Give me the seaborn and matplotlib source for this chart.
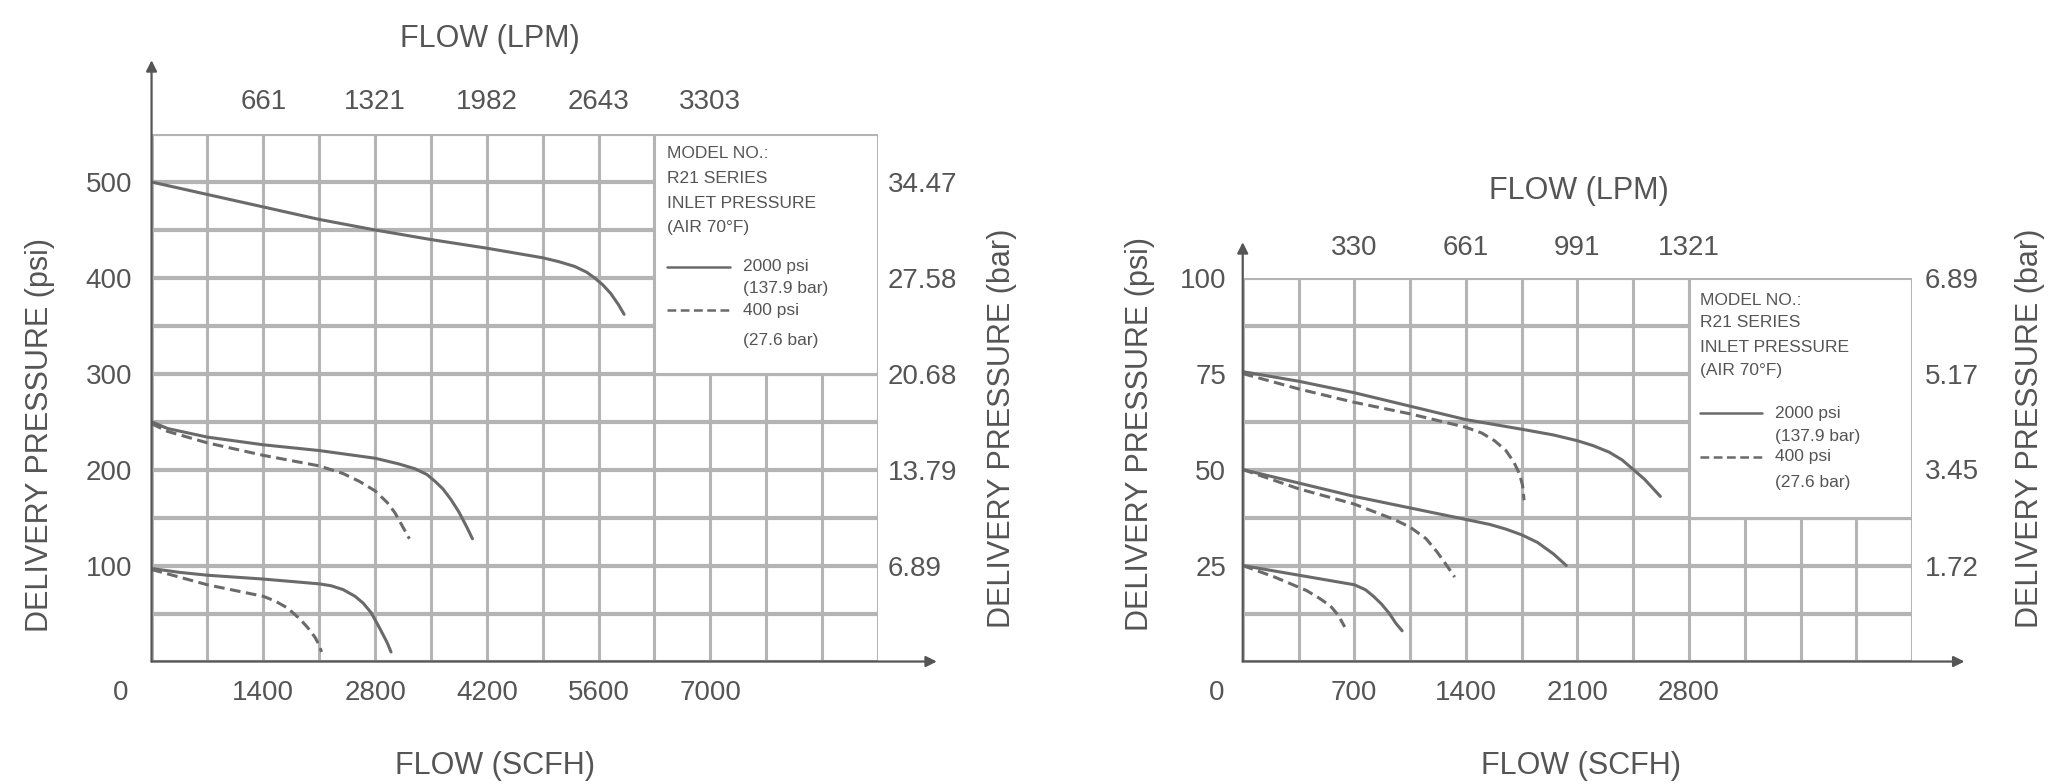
import matplotlib
matplotlib.use("Agg")
import matplotlib.pyplot as plt
import matplotlib.patches as patches
import seaborn as sns
import pandas as pd
import numpy as np

# ---- data ----
# left chart (high pressure range), flow in SCFH, delivery pressure in psi
l500_flow = [0, 700, 1400, 2100, 2800, 3500, 4200, 4900, 5100, 5300, 5450, 5550, 5650, 5750, 5850, 5920]
l500_psi = [500, 487, 474, 461, 450, 440, 431, 421, 417, 412, 406, 400, 393, 384, 372, 362]

l250_flow = [0, 200, 700, 1400, 2100, 2800, 3100, 3300, 3450, 3550, 3650, 3750, 3850, 3950, 4020]
l250_psi = [250, 243, 234, 226, 220, 212, 206, 201, 195, 188, 180, 169, 156, 140, 128]
l250d_flow = [0, 200, 700, 1400, 2100, 2400, 2600, 2800, 2950, 3050, 3150, 3230]
l250d_psi = [248, 240, 228, 215, 204, 196, 188, 178, 166, 155, 140, 128]

l100_flow = [0, 350, 700, 1400, 2100, 2250, 2400, 2550, 2650, 2750, 2850, 2950, 3000]
l100_psi = [97, 93, 90, 86, 81, 79, 75, 68, 61, 51, 36, 20, 10]
l100d_flow = [0, 350, 700, 1050, 1400, 1550, 1700, 1850, 1950, 2050, 2100, 2130]
l100d_psi = [96, 88, 80, 74, 68, 63, 56, 45, 36, 25, 17, 10]

# right chart (low pressure range)
r75_flow = [0, 350, 700, 1050, 1400, 1750, 1950, 2100, 2200, 2300, 2380, 2450, 2520, 2620]
r75_psi = [75.5, 73, 70, 66.5, 63, 60.5, 59, 57.5, 56.2, 54.5, 52.5, 50, 47.5, 43]
r75d_flow = [0, 350, 700, 1050, 1400, 1500, 1580, 1650, 1700, 1735, 1755, 1765]
r75d_psi = [75, 71, 67.5, 64.5, 61, 59.5, 57.5, 55, 52, 49, 46, 42]

r50_flow = [0, 350, 700, 1050, 1400, 1550, 1650, 1750, 1850, 1950, 2030]
r50_psi = [50, 46.5, 43, 40, 37, 35.7, 34.5, 33, 31, 28, 25]
r50d_flow = [0, 350, 700, 950, 1050, 1150, 1220, 1280, 1330]
r50d_psi = [50, 45, 41, 37, 35, 32, 28.5, 25, 22]

r25_flow = [0, 350, 700, 770, 820, 870, 920, 960, 1000]
r25_psi = [25, 22.5, 20, 18.7, 17, 15, 12.5, 10, 8]
r25d_flow = [0, 200, 400, 480, 550, 600, 640]
r25d_psi = [25, 22, 18.5, 16.5, 14.5, 12, 9]

# tick labels
l_scfh_ticks = [1400, 2800, 4200, 5600, 7000]
l_lpm_ticks = [661, 1321, 1982, 2643, 3303]
l_psi_ticks = [100, 200, 300, 400, 500]
l_bar_ticks = [6.89, 13.79, 20.68, 27.58, 34.47]

r_scfh_ticks = [700, 1400, 2100, 2800]
r_lpm_ticks = [330, 661, 991, 1321]
r_psi_ticks = [25, 50, 75, 100]
r_bar_ticks = [1.72, 3.45, 5.17, 6.89]

legend_lines = ["MODEL NO.:", "R21 SERIES", "INLET PRESSURE", "(AIR 70\u00b0F)"]
legend_series = ["2000 psi", "(137.9 bar)", "400 psi", "(27.6 bar)"]

SCFH_TO_LPM = 0.4719
PSI_TO_BAR = 0.068948


def make_df(curves):
    rows = []
    for name, inlet, fl, ps in curves:
        for f, p in zip(fl, ps):
            rows.append({"flow": f, "psi": p, "curve": name, "inlet": inlet})
    return pd.DataFrame(rows)


left_df = make_df([
    ("a", "2000 psi", l500_flow, l500_psi),
    ("b", "2000 psi", l250_flow, l250_psi),
    ("c", "400 psi", l250d_flow, l250d_psi),
    ("d", "2000 psi", l100_flow, l100_psi),
    ("e", "400 psi", l100d_flow, l100d_psi),
])
right_df = make_df([
    ("a", "2000 psi", r75_flow, r75_psi),
    ("b", "400 psi", r75d_flow, r75d_psi),
    ("c", "2000 psi", r50_flow, r50_psi),
    ("d", "400 psi", r50d_flow, r50d_psi),
    ("e", "2000 psi", r25_flow, r25_psi),
    ("f", "400 psi", r25d_flow, r25d_psi),
])

sns.set_theme(style="white")
plt.rcParams["font.family"] = ["Liberation Sans", "DejaVu Sans"]

TXT = "#555555"
GRID = "#b4b4b4"
CURVE = "#6a6a6a"
AX = "#555555"
DASH = (3.5, 1.8)

fig = plt.figure(figsize=(20.48, 7.84), dpi=100)


def draw_panel(ax, df, xmax, xstep, ymax, ystep, scfh_ticks, lpm_ticks,
               psi_ticks, bar_ticks, box, leg, arrow_y, arrow_x, pads, zero_dx):
    ax.set_xlim(0, xmax)
    ax.set_ylim(0, ymax)
    ax.set_xticks(np.arange(0, xmax + 1, xstep), minor=True)
    ax.set_yticks(np.arange(0, ymax + 0.01, ystep), minor=True)
    ax.set_xticks(scfh_ticks)
    ax.set_xticklabels([str(t) for t in scfh_ticks])
    ax.set_yticks(psi_ticks)
    ax.set_yticklabels([str(t) for t in psi_ticks])
    ax.set_axisbelow(True)
    ax.grid(which="both", axis="x", color=GRID, lw=2.2)
    ax.grid(which="both", axis="y", color=GRID, lw=3.0)
    for s in ax.spines.values():
        s.set_visible(False)
    ax.tick_params(axis="x", length=0, pad=pads[0], labelsize=20, labelcolor=TXT)
    ax.tick_params(axis="y", length=0, pad=pads[1], labelsize=20, labelcolor=TXT)
    ax.tick_params(which="minor", length=0)

    # legend box covering the grid
    ax.add_patch(patches.Rectangle((box[0], box[1]), xmax - box[0], ymax - box[1],
                                   facecolor="white", edgecolor=GRID, lw=2.2, zorder=1))

    sns.lineplot(data=df, x="flow", y="psi", units="curve", style="inlet",
                 estimator=None, sort=False, color=CURVE, lw=2.2,
                 dashes={"2000 psi": "", "400 psi": DASH}, legend=False, ax=ax, zorder=3)
    ax.set_xlabel("")
    ax.set_ylabel("")

    # top LPM axis
    sec = ax.secondary_xaxis("top", functions=(lambda s: s * SCFH_TO_LPM,
                                                lambda l: l / SCFH_TO_LPM))
    sec.set_xticks(lpm_ticks)
    sec.set_xticklabels([str(t) for t in lpm_ticks])
    sec.tick_params(length=0, pad=pads[2], labelsize=20, labelcolor=TXT)
    sec.spines["top"].set_visible(False)

    # right bar axis
    sb = ax.secondary_yaxis("right", functions=(lambda p: p * PSI_TO_BAR,
                                                 lambda b: b / PSI_TO_BAR))
    sb.set_yticks(bar_ticks)
    sb.set_yticklabels([f"{t:.2f}" for t in bar_ticks])
    sb.tick_params(length=0, pad=pads[3], labelsize=20, labelcolor=TXT)
    sb.spines["right"].set_visible(False)

    # axis arrows
    ap = dict(arrowstyle="-|>", color=AX, lw=1.6, mutation_scale=16, shrinkA=0, shrinkB=0)
    ax.annotate("", xy=(0, arrow_y), xytext=(0, 0), xycoords="axes fraction",
                textcoords="axes fraction", arrowprops=ap, annotation_clip=False)
    ax.annotate("", xy=(arrow_x, 0), xytext=(0, 0), xycoords="axes fraction",
                textcoords="axes fraction", arrowprops=ap, annotation_clip=False)
    ax.annotate("0", xy=(0, 0), xycoords="axes fraction", xytext=(zero_dx, -pads[0]),
                textcoords="offset points", ha="center", va="top", fontsize=20,
                color=TXT, annotation_clip=False)

    # legend text
    for yy, t in zip(leg["ys"], legend_lines):
        ax.text(leg["x0"], yy, t, transform=ax.transAxes, fontsize=12.5,
                color=TXT, va="center", ha="left", zorder=4)
    ax.plot([leg["x0"], leg["x1"]], [leg["ysolid"]] * 2, transform=ax.transAxes,
            color=CURVE, lw=1.8, zorder=4)
    ax.plot([leg["x0"], leg["x1"]], [leg["ydash"]] * 2, transform=ax.transAxes,
            color=CURVE, lw=1.8, ls=(0, DASH), zorder=4)
    for yy, t in zip(leg["ys2"], legend_series):
        ax.text(leg["x2"], yy, t, transform=ax.transAxes, fontsize=12.5,
                color=TXT, va="center", ha="left", zorder=4)


axL = fig.add_axes([0.074, 0.1562, 0.3547, 0.6728])
draw_panel(axL, left_df, 9100, 700, 550, 50, l_scfh_ticks, l_lpm_ticks,
           l_psi_ticks, l_bar_ticks, (6300, 300),
           dict(x0=0.710, x1=0.796, x2=0.814, ys=[0.964, 0.915, 0.868, 0.822],
                ysolid=0.748, ydash=0.666, ys2=[0.748, 0.708, 0.666, 0.609]),
           1.14, 1.081, (13, 14, 14, 7), -22)

axR = fig.add_axes([0.6068, 0.1562, 0.3269, 0.4898])
draw_panel(axR, right_df, 4200, 350, 100, 12.5, r_scfh_ticks, r_lpm_ticks,
           r_psi_ticks, r_bar_ticks, (2800, 37.5),
           dict(x0=0.683, x1=0.775, x2=0.795, ys=[0.941, 0.884, 0.819, 0.759],
                ysolid=0.647, ydash=0.533, ys2=[0.647, 0.585, 0.533, 0.465]),
           1.092, 1.078, (13, 12, 12, 9), -19)

# axis titles
lab = dict(fontsize=22, color=TXT, ha="center", va="center")
fig.text(490 / 2048, 1 - 39 / 784, "FLOW (LPM)", **lab)
fig.text(495 / 2048, 1 - 766 / 784, "FLOW (SCFH)", **lab)
fig.text(1579 / 2048, 1 - 191 / 784, "FLOW (LPM)", **lab)
fig.text(1581 / 2048, 1 - 766 / 784, "FLOW (SCFH)", **lab)
fig.text(40 / 2048, 1 - 435 / 784, "DELIVERY PRESSURE (psi)", rotation=90, **lab)
fig.text(1002 / 2048, 1 - 428 / 784, "DELIVERY PRESSURE (bar)", rotation=90, **lab)
fig.text(1140 / 2048, 1 - 434 / 784, "DELIVERY PRESSURE (psi)", rotation=90, **lab)
fig.text(2030 / 2048, 1 - 428 / 784, "DELIVERY PRESSURE (bar)", rotation=90, **lab)

fig.savefig("out.png", dpi=100, facecolor="white")
